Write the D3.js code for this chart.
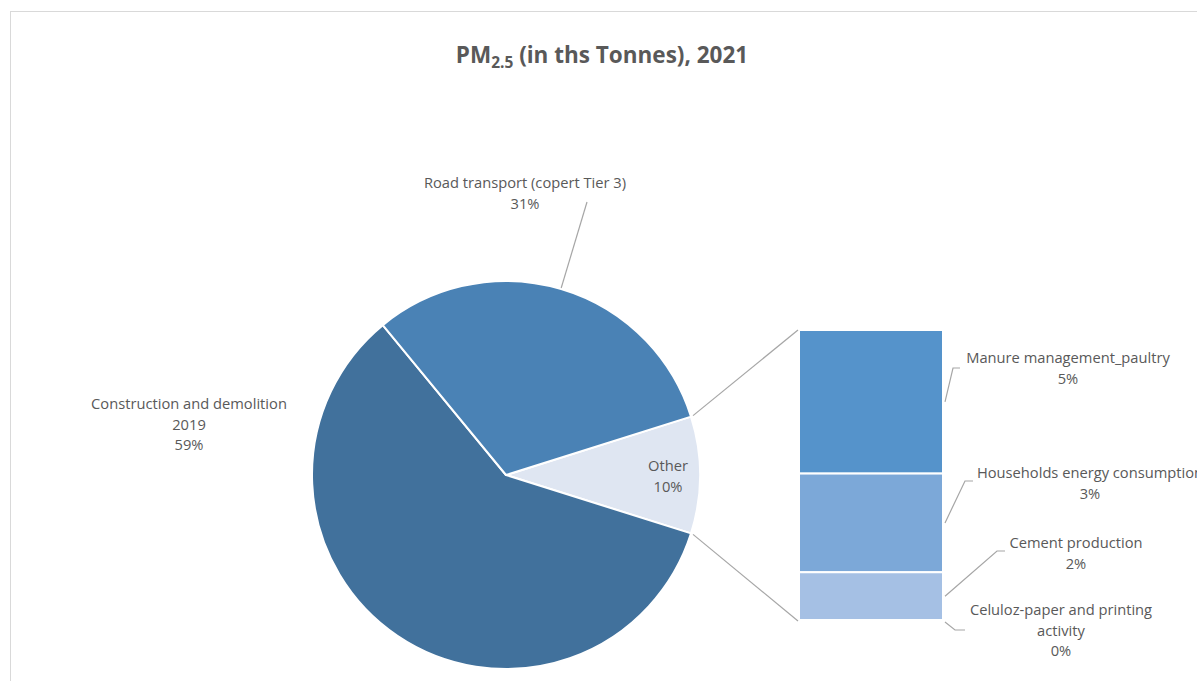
<!DOCTYPE html>
<meta charset="utf-8">
<style>
    body {
        margin: 0;
        padding: 0;
        background: #fff;
    }

    svg {
        display: block;
        font-family: "Open Sans", Lato, sans-serif;
    }

    .lbl {
        fill: #595959;
        font-size: 14.7px;
    }

    .leader {
        fill: none;
        stroke: #a6a6a6;
        stroke-width: 1.2px;
    }
</style>
<svg width="1197" height="681"></svg>
<script src="https://d3js.org/d3.v7.min.js"></script>
<script>
    // shares of PM2.5 emissions, 2021 (percent)
    var pieNames = [["Construction and demolition", "2019"], ["Road transport (copert Tier 3)"]];
    var pieShares = [59.2, 31.1];
    var otherName = ["Other"];
    var barNames = [["Manure management_paultry"], ["Households energy consumption"], ["Cement production"], ["Celuloz-paper and printing", "activity"]];
    var barShares = [4.8, 3.3, 1.6, 0.03];

    var pieColors = ["#41719c", "#4a82b5"];
    var otherColor = "#dfe6f2";
    var barColors = ["#5593cb", "#7ca8d8", "#a5c0e4", "#c9d8ee"];

    var svg = d3.select("svg");
    var pct = d3.format(".0%");

    // chart border (right and bottom edges fall outside the view)
    svg.append("rect")
        .attr("x", 10.5).attr("y", 11.5)
        .attr("width", 1220).attr("height", 700)
        .attr("fill", "none")
        .attr("stroke", "#d9d9d9");

    var title = svg.append("text")
        .attr("x", 602).attr("y", 63)
        .attr("text-anchor", "middle")
        .attr("fill", "#595959")
        .style("font-size", "22.5px")
        .style("font-weight", "bold");
    title.append("tspan").text("PM");
    title.append("tspan").attr("dy", 5).style("font-size", "15.5px").text("2.5");
    title.append("tspan").attr("dy", -5).text(" (in ths Tonnes), 2021");

    var otherTotal = d3.sum(barShares);
    var total = d3.sum(pieShares) + otherTotal;

    // pie order clockwise: Other, Construction, Road
    var pieData = [
        { name: otherName, value: otherTotal, color: otherColor },
        { name: pieNames[0], value: pieShares[0], color: pieColors[0] },
        { name: pieNames[1], value: pieShares[1], color: pieColors[1] }
    ];

    var cx = 506, cy = 475, R = 194;
    var otherAngle = otherTotal / total * 2 * Math.PI;
    var start = Math.PI / 2 - otherAngle / 2;

    var pie = d3.pie().sort(null).value(function(d) {
        return d.value;
    }).startAngle(start).endAngle(start + 2 * Math.PI);

    var arcs = pie(pieData);
    var arc = d3.arc().innerRadius(0).outerRadius(R);

    var g = svg.append("g").attr("transform", "translate(" + cx + "," + cy + ")");

    g.selectAll("path")
        .data(arcs)
        .enter().append("path")
        .attr("d", arc)
        .attr("fill", function(d) {
            return d.data.color;
        })
        .attr("stroke", "#fff")
        .attr("stroke-width", 2)
        .attr("stroke-linejoin", "round");

    function polar(r, a) {
        return [cx + r * Math.sin(a), cy - r * Math.cos(a)];
    }

    // bar of pie
    var barX = 799, barW = 144, barTop = 330, barBottom = 621;
    var y = d3.scaleLinear().domain([0, otherTotal]).range([barTop, barBottom]);
    var cum = 0;
    var barData = barShares.map(function(v, i) {
        var d = { name: barNames[i], value: v, y0: cum, y1: cum + v, color: barColors[i] };
        cum += v;
        return d;
    });

    svg.append("g").selectAll("rect")
        .data(barData)
        .enter().append("rect")
        .attr("x", barX)
        .attr("width", barW)
        .attr("y", function(d) {
            return y(d.y0);
        })
        .attr("height", function(d) {
            return Math.max(0, y(d.y1) - y(d.y0));
        })
        .attr("fill", function(d) {
            return d.color;
        })
        .attr("stroke", "#fff")
        .attr("stroke-width", 2);

    // connectors from Other slice to bar
    var oA = arcs[0];
    var pTop = polar(R, oA.startAngle), pBot = polar(R, oA.endAngle);
    svg.append("path").attr("class", "leader")
        .attr("d", d3.line()([[pTop[0] + 2, pTop[1] - 1], [barX - 1, y(0)]]));
    svg.append("path").attr("class", "leader")
        .attr("d", d3.line()([[pBot[0] + 2, pBot[1] + 1], [barX - 1, y(otherTotal)]]));

    function label(lines, x, y0) {
        var t = svg.append("text").attr("class", "lbl").attr("text-anchor", "middle");
        lines.forEach(function(s, i) {
            t.append("tspan").attr("x", x).attr("y", y0 + i * 20.5).text(s);
        });
    }

    // pie labels
    label(pieData[1].name.concat([pct(pieData[1].value / total)]), 189, 409);
    label(pieData[2].name.concat([pct(pieData[2].value / total)]), 525, 188);
    var oc = d3.arc().innerRadius(0).outerRadius(R * 1.67).centroid(oA);
    label(otherName.concat([pct(otherTotal / total)]), cx + oc[0], cy + oc[1] - 4);

    var rA = arcs[2];
    var rp = polar(R, (rA.startAngle + rA.endAngle) / 2);
    svg.append("path").attr("class", "leader")
        .attr("d", d3.line()([[rp[0], rp[1] - 1], [587, 202]]));

    // bar labels with elbow leaders
    var barLbl = [
        { x: 1068, y: 363, elbow: [953, 368], end: 960 },
        { x: 1090, y: 478, elbow: [965, 481], end: 973 },
        { x: 1076, y: 548, elbow: [997, 551], end: 1005 },
        { x: 1061, y: 615, elbow: [955, 630], end: 965 }
    ];
    barData.forEach(function(d, i) {
        var L = barLbl[i];
        var ym = (y(d.y0) + y(d.y1)) / 2;
        if (i === barData.length - 1) ym = y(d.y1) + 1;
        svg.append("path").attr("class", "leader")
            .attr("d", d3.line()([[barX + barW + 2, ym], L.elbow, [L.end, L.elbow[1]]]));
        label(d.name.concat([pct(d.value / total)]), L.x, L.y);
    });
</script>
